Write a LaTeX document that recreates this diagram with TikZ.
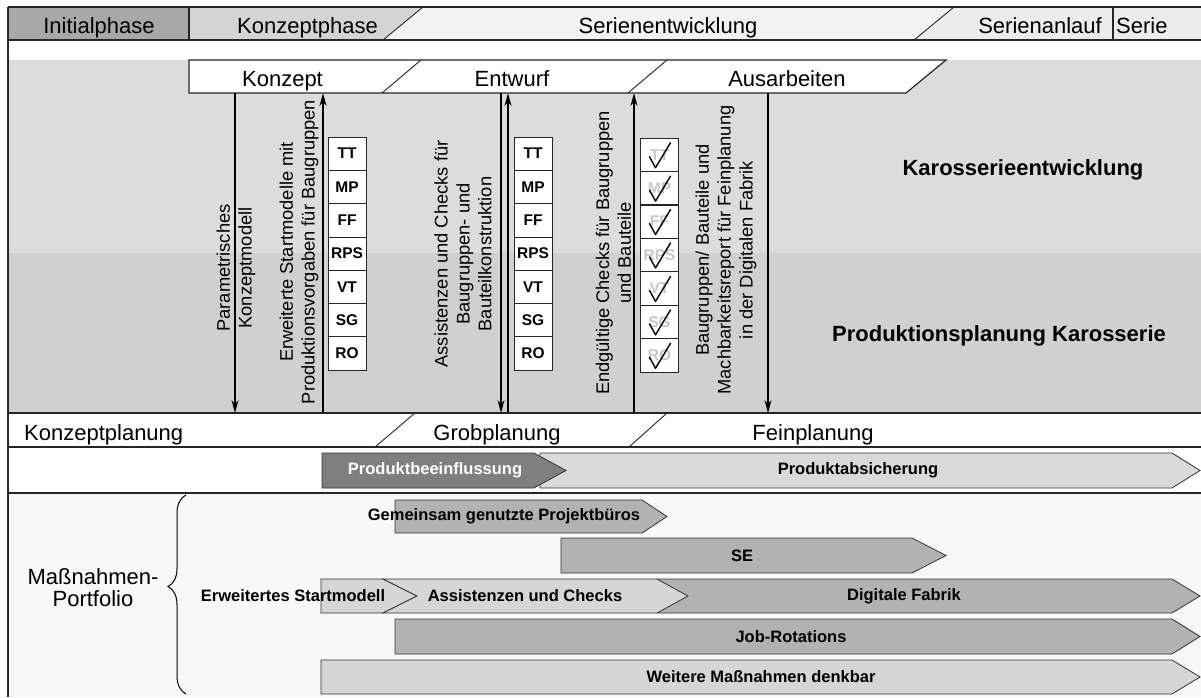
\documentclass[tikz,border=0pt]{standalone}
\usepackage{fontspec}
\setmainfont{Liberation Sans}
\usetikzlibrary{arrows.meta,decorations.pathreplacing}
\definecolor{cInit}{HTML}{A8A8A8}
\definecolor{cKonz}{HTML}{D4D4D4}
\definecolor{cSer}{HTML}{F2F2F2}
\definecolor{cAnl}{HTML}{ECECEC}
\definecolor{gLight}{HTML}{DCDCDC}
\definecolor{gDark}{HTML}{D0D0D0}
\definecolor{cPB}{HTML}{7F7F7F}
\definecolor{cPA}{HTML}{DADADA}
\definecolor{cMid}{HTML}{B2B2B2}
\definecolor{cLt}{HTML}{D6D6D6}
\definecolor{bgLow}{HTML}{F8F8F8}
\definecolor{faint}{HTML}{C8C8C8}
\begin{document}
\begin{tikzpicture}[x=1pt,y=-1pt,
  frame/.style={draw=black!85, line width=1.2pt},
  slash/.style={draw=black!85, line width=0.9pt},
  lbl/.style={font=\fontsize{22}{26}\selectfont, inner sep=0pt, anchor=base},
  rot/.style={rotate=90, align=center, font=\fontsize{18.3}{21.8}\selectfont, inner sep=0pt},
  box/.style={draw=black!85, line width=0.8pt, fill=white, minimum width=38pt, minimum height=33.3pt, font=\bfseries\fontsize{15.5}{15.5}\selectfont, inner sep=0pt},
  cbox/.style={box, text=faint},
  chk/.style={draw=black, line width=1.4pt, line join=round, line cap=round},
  big/.style={font=\bfseries\fontsize{22}{26}\selectfont, inner sep=0pt},
  barlbl/.style={font=\bfseries\fontsize{16.5}{18}\selectfont, inner sep=0pt},
  varrow/.style={-{Stealth[length=13pt,width=7pt]}, line width=1.4pt},
  sig/.style={draw=black!80, line width=0.8pt}
]
\useasboundingbox (0,0) rectangle (1201,697);
% backgrounds
\fill[white] (0,0) rectangle (1201,697);
\fill[gLight] (8,60) rectangle (1201,253);
\fill[gDark] (8,253) rectangle (1201,413);
\fill[bgLow] (8,493) rectangle (1201,697);
% header
\fill[cInit] (8,7) rectangle (189,40);
\fill[cKonz] (189,7) -- (423,7) -- (383,40) -- (189,40) -- cycle;
\fill[cSer] (423,7) -- (954,7) -- (914,40) -- (383,40) -- cycle;
\fill[cAnl] (954,7) -- (1201,7) -- (1201,40) -- (914,40) -- cycle;
\draw[frame] (8,7) -- (1201,7);
\draw[frame] (8,40) -- (1201,40);
\draw[frame] (189,7) -- (189,40);
\draw[frame] (1113,7) -- (1113,40);
\draw[slash] (383,40) -- (423,7);
\draw[slash] (914,40) -- (954,7);
\node[lbl] (h1) at (99,33) {Initialphase};
\node[lbl] (h2) at (307.5,33) {Konzeptphase};
\node[lbl] (h3) at (668,33) {Serienentwicklung};
\node[lbl, anchor=base east] (h4) at (1102,33) {Serienanlauf};
\node[lbl, anchor=base west] (h5) at (1116,33) {Serie};
% phase bar
\filldraw[frame, fill=white] (189,60) -- (946,60) -- (906,93) -- (189,93) -- cycle;
\draw[slash] (382,93) -- (421,60);
\draw[slash] (628,93) -- (667,60);
\node[lbl] (b1) at (282.5,86) {Konzept};
\node[lbl] (b2) at (512,86) {Entwurf};
\node[lbl] (b3) at (787,86) {Ausarbeiten};
% arrow coordinates
\coordinate (a1t) at (235,93);  \coordinate (a1b) at (235,413);
\coordinate (a2t) at (323,93);  \coordinate (a2b) at (323,413);
\coordinate (a3t) at (501,93);  \coordinate (a3b) at (501,413);
\coordinate (a4t) at (508,93);  \coordinate (a4b) at (508,413);
\coordinate (a5t) at (634,93);  \coordinate (a5b) at (634,413);
\coordinate (a6t) at (768,93);  \coordinate (a6b) at (768,413);
\draw[varrow] (a1t) -- (a1b);
\draw[varrow] (a2b) -- (a2t);
\draw[varrow] (a3t) -- (a3b);
\draw[varrow] (a4b) -- (a4t);
\draw[varrow] (a5b) -- (a5t);
\draw[varrow] (a6t) -- (a6b);
% rotated texts
\node[rot] (t1) at (236,268) {Parametrisches\\Konzeptmodell};
\node[rot] (t2) at (299,252) {Erweiterte Startmodelle mit\\Produktionsvorgaben für Baugruppen};
\node[rot] (t3) at (463,254) {Assistenzen und Checks für\\Baugruppen- und\\Bauteilkonstruktion};
\node[rot] (t4) at (613.5,253) {Endgültige Checks für Baugruppen\\und Bauteile};
\node[rot] (t5) at (726,250) {Baugruppen/ Bauteile und\\Machbarkeitsreport für Feinplanung\\in der Digitalen Fabrik};
% boxes
\foreach \t [count=\i from 0] in {TT,MP,FF,RPS,VT,SG,RO}{
  \node[box] (c1\t) at (347,{153.65+33.3*\i}) {\t};
  \node[box] (c2\t) at (533,{153.65+33.3*\i}) {\t};
  \node[cbox] (c3\t) at (659.5,{154.7+33.43*\i}) {\t};
  \draw[chk] ([shift={(-10,2)}]c3\t.center) -- ([shift={(-4,13)}]c3\t.center) -- ([shift={(11,-12)}]c3\t.center);
}
% area labels
\node[big] (ka) at (1023,170) {Karosserieentwicklung};
\node[big] (pk) at (999,336) {Produktionsplanung Karosserie};
% planning row
\draw[frame] (8,413) -- (1201,413);
\draw[frame] (8,447) -- (1201,447);
\draw[slash] (375,447) -- (415,413);
\draw[slash] (629,447) -- (667,413);
\node[lbl, anchor=base west] (p1) at (24,440) {Konzeptplanung};
\node[lbl] (p2) at (497,440) {Grobplanung};
\node[lbl] (p3) at (813,440) {Feinplanung};
% product row
\filldraw[sig, fill=cPA] (540,453) -- (1172,453) -- (1200,470.5) -- (1172,488) -- (540,488) -- cycle;
\filldraw[sig, fill=cPB] (322,453) -- (534,453) -- (566,470.5) -- (534,488) -- (322,488) -- cycle;
\node[barlbl, text=white] (pb) at (435,470.5) {Produktbeeinflussung};
\node[barlbl] (pa) at (858,470.5) {Produktabsicherung};
\draw[frame] (8,493) -- (1201,493);
% left border
\draw[frame] (8,7) -- (8,697);
% portfolio
\node[font=\fontsize{22}{22}\selectfont, align=center, inner sep=0pt] (mp) at (93,588) {Maßnahmen-\\Portfolio};
\draw[line width=1pt, decorate, decoration={brace, amplitude=18pt, aspect=0.54}] (186,694) -- (186,495);
% measures
\filldraw[sig, fill=cMid] (395,500) -- (642,500) -- (667,516.5) -- (642,533) -- (395,533) -- cycle;
\node[barlbl] (m1) at (504,516.5) {Gemeinsam genutzte Projektbüros};
\filldraw[sig, fill=cMid] (561,538) -- (912,538) -- (946,555.5) -- (912,573) -- (561,573) -- cycle;
\node[barlbl] (m2) at (742,555.5) {SE};
\filldraw[sig, fill=cMid] (657,579) -- (1172,579) -- (1200,596) -- (1172,613) -- (657,613) -- cycle;
\filldraw[sig, fill=cLt] (321,579) -- (383,579) -- (417,596) -- (383,613) -- (321,613) -- cycle;
\filldraw[sig, fill=cLt] (383,579) -- (657,579) -- (688,596) -- (657,613) -- (383,613) -- (417,596) -- cycle;
\node[barlbl] (m3) at (293,596) {Erweitertes Startmodell};
\node[barlbl] (m4) at (525,596) {Assistenzen und Checks};
\node[barlbl] (m5) at (904,596) {Digitale Fabrik};
\filldraw[sig, fill=cMid] (395,619) -- (1172,619) -- (1200,636.5) -- (1172,654) -- (395,654) -- cycle;
\node[barlbl] (m6) at (791,636.5) {Job-Rotations};
\filldraw[sig, fill=cLt] (321,660) -- (1172,660) -- (1200,677) -- (1172,694) -- (321,694) -- cycle;
\node[barlbl] (m7) at (761,677) {Weitere Maßnahmen denkbar};
\end{tikzpicture}
\end{document}
